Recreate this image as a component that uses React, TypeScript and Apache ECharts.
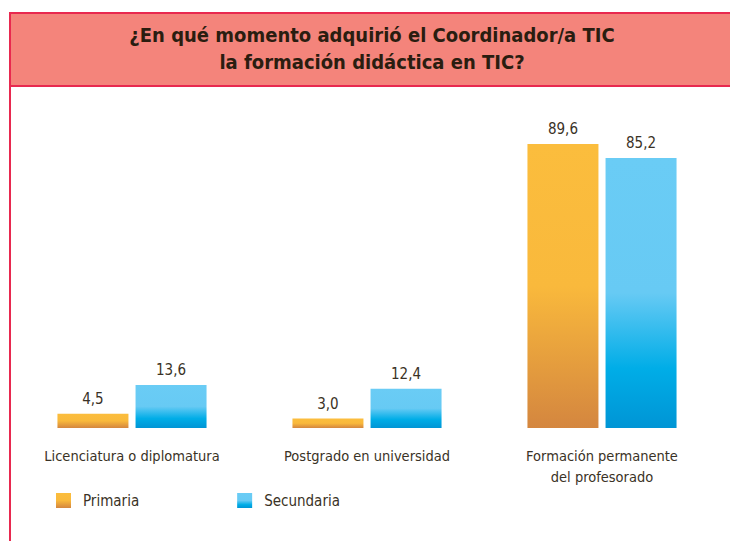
import React, { useEffect, useRef } from "react";
import * as echarts from "echarts";

const categories = ["Licenciatura o diplomatura", "Postgrado en universidad", "Formación permanente\ndel profesorado"];
const primaria = [4.5, 3.0, 89.6];
const secundaria = [13.6, 12.4, 85.2];
const seriesNames = ["Primaria", "Secundaria"];
const titleLines = ["¿En qué momento adquirió el Coordinador/a TIC", "la formación didáctica en TIC?"];

const FONT = '"Liberation Sans Narrow", "DejaVu Sans Condensed", "Roboto Condensed", sans-serif';
const TEXT = "#3a3226";

const gradPrim = new echarts.graphic.LinearGradient(0, 0, 0, 1, [
  { offset: 0, color: "#FBBD3D" },
  { offset: 0.5, color: "#F9B93C" },
  { offset: 1, color: "#D4863F" },
]);
const gradSec = new echarts.graphic.LinearGradient(0, 0, 0, 1, [
  { offset: 0, color: "#6ACCF5" },
  { offset: 0.5, color: "#67CAF4" },
  { offset: 0.78, color: "#00ADE7" },
  { offset: 1, color: "#0095D5" },
]);

const fmt = (p: any) => Number(p.value).toFixed(1).replace(".", ",");

export default function App() {
  const ref = useRef<HTMLDivElement>(null);
  useEffect(() => {
    if (!ref.current) return;
    const chart = echarts.init(ref.current, null, { renderer: "svg" });
    chart.setOption({
      animation: false,
      backgroundColor: "#ffffff",
      graphic: [
        {
          type: "rect",
          shape: { x: 10, y: 13, width: 740, height: 73 },
          style: { fill: "#F4847B", stroke: "#E8294F", lineWidth: 2 },
          z: 1,
        },
        {
          type: "line",
          shape: { x1: 10, y1: 86, x2: 10, y2: 541 },
          style: { stroke: "#E8294F", lineWidth: 2 },
          z: 1,
        },
        {
          type: "text",
          x: 372,
          y: 48,
          style: {
            text: titleLines.join("\n"),
            font: `bold 20px ${FONT}`,
            fill: "#2a1d10",
            align: "center",
            verticalAlign: "middle",
            lineHeight: 27,
          },
          z: 2,
        },
      ],
      legend: {
        left: 56,
        top: 493,
        padding: 0,
        itemWidth: 15,
        itemHeight: 15,
        itemGap: 98,
        icon: "rect",
        data: seriesNames,
        textStyle: { fontFamily: FONT, fontSize: 15, color: TEXT, padding: [0, 0, 0, 7] },
      },
      grid: { left: 14.5, right: 10.5, top: 111, bottom: 113 },
      xAxis: {
        type: "category",
        data: categories,
        axisLine: { show: false },
        axisTick: { show: false },
        axisLabel: {
          interval: 0,
          hideOverlap: false,
          margin: 17,
          fontFamily: FONT,
          fontSize: 14.5,
          color: TEXT,
          lineHeight: 21,
          verticalAlign: "top",
        },
      },
      yAxis: { type: "value", min: 0, max: 100, show: false, splitLine: { show: false } },
      series: [
        {
          name: seriesNames[0],
          type: "bar",
          data: primaria,
          barWidth: 71,
          barGap: "10%",
          itemStyle: { color: gradPrim },
          label: { show: true, position: "top", distance: 7, formatter: fmt, fontFamily: FONT, fontSize: 15, color: TEXT },
        },
        {
          name: seriesNames[1],
          type: "bar",
          data: secundaria,
          barWidth: 71,
          barGap: "10%",
          itemStyle: { color: gradSec },
          label: { show: true, position: "top", distance: 7, formatter: fmt, fontFamily: FONT, fontSize: 15, color: TEXT },
        },
      ],
    });
    return () => chart.dispose();
  }, []);
  return <div ref={ref} style={{ position: "absolute", left: 0, top: 0, width: 730, height: 541 }} />;
}
